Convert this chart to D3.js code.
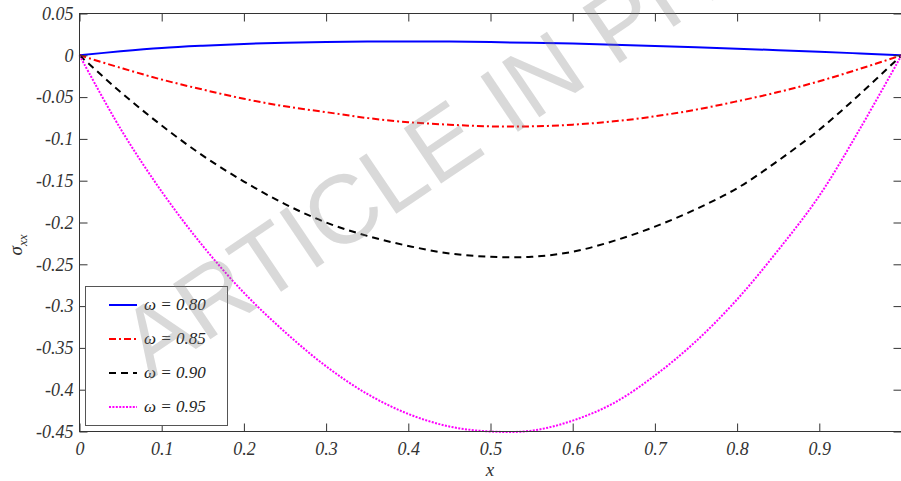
<!DOCTYPE html>
<html>
<head>
<meta charset="utf-8">
<script src="https://cdn.jsdelivr.net/npm/d3@7/dist/d3.min.js"></script>
<style>
  html, body { margin: 0; padding: 0; background: #fff; }
  svg { display: block; }
</style>
</head>
<body>
<svg id="chart" width="901" height="481"></svg>
<script>
// Normal stress sigma_xx along the beam for four values of omega
const xs = [0, 0.05, 0.1, 0.15, 0.2, 0.25, 0.3, 0.35, 0.4, 0.45, 0.5,
            0.55, 0.6, 0.65, 0.7, 0.75, 0.8, 0.85, 0.9, 0.95, 1];

const sigma080 = [0, 0.0048, 0.0088, 0.0115, 0.0136, 0.0151, 0.0160, 0.0165, 0.0166, 0.0164, 0.0158,
                  0.0150, 0.0140, 0.0127, 0.0112, 0.0096, 0.0079, 0.0061, 0.0042, 0.0022, 0];
const sigma085 = [0, -0.015, -0.029, -0.041, -0.052, -0.061, -0.068, -0.075, -0.080, -0.083, -0.085,
                  -0.085, -0.083, -0.079, -0.073, -0.065, -0.055, -0.044, -0.031, -0.016, 0];
const sigma090 = [0, -0.044, -0.084, -0.120, -0.151, -0.178, -0.200, -0.216, -0.228, -0.237, -0.241,
                  -0.241, -0.235, -0.222, -0.205, -0.184, -0.159, -0.126, -0.089, -0.046, 0];
const sigma095 = [0, -0.088, -0.163, -0.228, -0.284, -0.331, -0.372, -0.405, -0.429, -0.444, -0.450,
                  -0.449, -0.437, -0.416, -0.383, -0.342, -0.292, -0.233, -0.168, -0.087, 0];

const seriesNames = ["\u03c9 = 0.80", "\u03c9 = 0.85", "\u03c9 = 0.90", "\u03c9 = 0.95"];
const seriesValues = [sigma080, sigma085, sigma090, sigma095];

const xTicks = [0, 0.1, 0.2, 0.3, 0.4, 0.5, 0.6, 0.7, 0.8, 0.9, 1];
const xTickLabels = ["0", "0.1", "0.2", "0.3", "0.4", "0.5", "0.6", "0.7", "0.8", "0.9", ""];
const yTicks = [0.05, 0, -0.05, -0.1, -0.15, -0.2, -0.25, -0.3, -0.35, -0.4, -0.45];
const yTickLabels = ["0.05", "0", "-0.05", "-0.1", "-0.15", "-0.2", "-0.25", "-0.3", "-0.35", "-0.4", "-0.45"];

// Line styles per series
const styles = [
  { color: "#0000ff", dash: null },
  { color: "#ff0000", dash: "7,3,2,3" },
  { color: "#000000", dash: "7,5" },
  { color: "#ff00ff", dash: "2,1.4" }
];

const serif = "'Liberation Serif', 'DejaVu Serif', serif";

const svg = d3.select("#chart");
const plot = { left: 79.5, right: 901.5, top: 13.5, bottom: 431.5 };

const x = d3.scaleLinear().domain([0, 1]).range([plot.left, plot.right]);
const y = d3.scaleLinear().domain([-0.45, 0.05]).range([plot.bottom, plot.top]);

// Curves
const line = d3.line()
  .x((d, i) => x(xs[i]))
  .y(d => y(d))
  .curve(d3.curveCatmullRom.alpha(0.5));

const curves = svg.append("g");
seriesValues.forEach((vals, k) => {
  curves.append("path")
    .attr("d", line(vals))
    .attr("fill", "none")
    .attr("stroke", styles[k].color)
    .attr("stroke-width", 2)
    .attr("stroke-dasharray", styles[k].dash);
});

// Axes with inward ticks on all four sides
const axisColor = "#333";
const tickLen = 8;
const axisBottom = d3.axisBottom(x).tickValues(xTicks).tickSize(-tickLen).tickFormat((d, i) => xTickLabels[i]).tickPadding(12);
const axisTop = d3.axisTop(x).tickValues(xTicks).tickSize(-tickLen).tickFormat("");
const axisLeft = d3.axisLeft(y).tickValues(yTicks).tickSize(-tickLen).tickFormat((d, i) => yTickLabels[i]).tickPadding(6);
const axisRight = d3.axisRight(y).tickValues(yTicks).tickSize(-tickLen).tickFormat("");

function styleAxis(g) {
  g.attr("font-family", serif).attr("font-size", 18).attr("font-style", "italic");
  g.select(".domain").remove();
  g.selectAll(".tick line").attr("stroke", axisColor);
  g.selectAll(".tick text").attr("fill", "#333");
}

svg.append("g").attr("transform", `translate(0,${plot.bottom})`).call(axisBottom).call(styleAxis)
  .selectAll(".tick text").attr("dy", "0.71em").attr("y", 11);
svg.append("g").attr("transform", `translate(0,${plot.top})`).call(axisTop).call(styleAxis);
svg.append("g").attr("transform", `translate(${plot.left},0)`).call(axisLeft).call(styleAxis)
  .selectAll(".tick text").attr("x", -6);
svg.append("g").attr("transform", `translate(${plot.right},0)`).call(axisRight).call(styleAxis);

svg.append("rect")
  .attr("x", plot.left).attr("y", plot.top)
  .attr("width", plot.right - plot.left).attr("height", plot.bottom - plot.top)
  .attr("fill", "none").attr("stroke", axisColor).attr("stroke-width", 1);

// Axis titles
svg.append("text")
  .attr("x", 490).attr("y", 476)
  .attr("text-anchor", "middle")
  .attr("font-family", serif).attr("font-style", "italic").attr("font-size", 19)
  .attr("fill", "#333")
  .text("x");

const yTitle = svg.append("text")
  .attr("transform", "translate(22,245) rotate(-90)")
  .attr("text-anchor", "middle")
  .attr("font-family", serif).attr("font-style", "italic").attr("font-size", 19)
  .attr("fill", "#333");
yTitle.append("tspan").text("\u03c3");
yTitle.append("tspan").attr("dy", 5).attr("font-size", 13).text("xx");

// Legend
const legend = svg.append("g");
legend.append("rect")
  .attr("x", 85.5).attr("y", 286.5).attr("width", 142).attr("height", 139)
  .attr("fill", "#fff").attr("stroke", "#555").attr("stroke-width", 1);
const legendY = [305, 339, 373, 407];
seriesNames.forEach((name, k) => {
  legend.append("line")
    .attr("x1", 109).attr("x2", 137)
    .attr("y1", legendY[k]).attr("y2", legendY[k])
    .attr("stroke", styles[k].color)
    .attr("stroke-width", 2)
    .attr("stroke-dasharray", styles[k].dash);
  legend.append("text")
    .attr("x", 144).attr("y", legendY[k] + 5)
    .attr("font-family", serif).attr("font-style", "italic").attr("font-size", 17)
    .attr("fill", "#222")
    .text(name);
});

// Watermark overlay
svg.append("text")
  .attr("transform", "translate(150,380) rotate(-34)")
  .attr("font-family", "'Liberation Sans', Arial, sans-serif")
  .attr("font-size", 97)
  .attr("fill", "#808080")
  .attr("fill-opacity", 0.3)
  .text("ARTICLE IN PRESS");
</script>
</body>
</html>
